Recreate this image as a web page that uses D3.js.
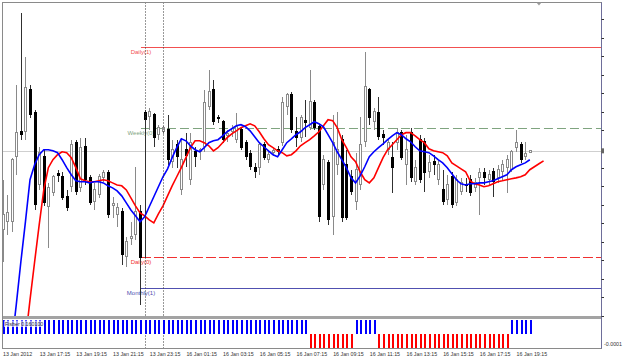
<!DOCTYPE html>
<html>
<head>
<meta charset="utf-8">
<script src="https://cdn.jsdelivr.net/npm/d3@7"></script>
<style>
html, body { margin: 0; padding: 0; background: #fff; }
svg { display: block; font-family: "Liberation Sans", Arial, sans-serif; }
</style>
</head>
<body>
<svg></svg>
<script>
const width = 625;
const height = 360;

// M15 bars, 13 Jan 2012 15:15 -> 16 Jan 2012 19:45
const opens = [
  1.26663,1.26706,1.26707,1.27058,1.27193,1.27193,1.27420,1.27296,1.26906,1.27058,
  1.26788,1.26863,1.26966,1.26950,1.26842,1.26896,1.27134,1.26890,1.27112,1.26944,
  1.26815,1.26852,1.26944,1.26971,1.26793,1.26744,1.26761,1.26517,1.26615,1.26636,
  1.26761,1.27296,1.27274,1.27285,1.27177,1.27193,1.27204,1.27031,1.27123,1.26879,
  1.27096,1.26934,1.27085,1.27085,1.27112,1.27328,1.27420,1.27269,1.27247,1.27171,
  1.27193,1.27150,1.27204,1.27134,1.27074,1.26999,1.26999,1.27123,1.27042,1.27080,
  1.27096,1.27134,1.27328,1.27393,1.27193,1.27161,1.27253,1.27215,1.27350,1.27220,
  1.26906,1.27025,1.26734,1.27015,1.27150,1.27015,1.26950,1.26815,1.26906,1.27139,
  1.27420,1.27247,1.27296,1.27177,1.27096,1.27053,1.27134,1.27188,1.27015,1.27188,
  1.26923,1.27150,1.27139,1.26977,1.27031,1.26934,1.26879,1.26825,1.26950,1.26809,
  1.26869,1.26906,1.26934,1.26890,1.26944,1.26971,1.26934,1.26977,1.26944,1.26977,
  1.26999,1.26988,1.27107,1.27123,1.27058,1.27080
];
const highs = [
  1.26934,1.26852,1.27053,1.27447,1.27836,1.27598,1.27447,1.27312,1.27112,1.27096,
  1.26917,1.26961,1.26988,1.26977,1.26879,1.27150,1.27150,1.27161,1.27161,1.26961,
  1.26917,1.26966,1.26988,1.26988,1.26842,1.26809,1.26782,1.26625,1.26707,1.27004,
  1.26798,1.27312,1.27323,1.27296,1.27231,1.27225,1.27285,1.27150,1.27150,1.27161,
  1.27188,1.27188,1.27112,1.27107,1.27420,1.27528,1.27474,1.27285,1.27258,1.27204,
  1.27231,1.27296,1.27220,1.27150,1.27096,1.27025,1.27134,1.27139,1.27096,1.27107,
  1.27117,1.27382,1.27404,1.27409,1.27274,1.27285,1.27366,1.27528,1.27366,1.27231,
  1.27069,1.27042,1.27285,1.27301,1.27177,1.27096,1.26988,1.27080,1.27274,1.27625,
  1.27431,1.27323,1.27382,1.27204,1.27161,1.27139,1.27215,1.27204,1.27177,1.27215,
  1.27042,1.27177,1.27161,1.27069,1.27069,1.27042,1.26988,1.26961,1.26977,1.26961,
  1.26944,1.26944,1.26961,1.26944,1.26999,1.26999,1.26988,1.26999,1.27015,1.27042,
  1.27069,1.27096,1.27204,1.27139,1.27139,1.27096
];
const lows = [
  1.26490,1.26636,1.26652,1.26961,1.27150,1.27150,1.27269,1.26771,1.26879,1.26793,
  1.26566,1.26847,1.26923,1.26825,1.26766,1.26869,1.26852,1.26869,1.26906,1.26798,
  1.26771,1.26836,1.26923,1.26728,1.26728,1.26679,1.26474,1.26463,1.26582,1.26609,
  1.26258,1.26512,1.27204,1.27112,1.27150,1.27182,1.27015,1.26999,1.26999,1.26852,
  1.27004,1.26906,1.27004,1.27042,1.27085,1.27312,1.27231,1.27242,1.27134,1.27139,
  1.27166,1.27134,1.27096,1.27042,1.26988,1.26944,1.26961,1.27042,1.27025,1.27063,
  1.27069,1.27117,1.27285,1.27188,1.27112,1.27139,1.27166,1.27204,1.27204,1.26707,
  1.26879,1.26690,1.26636,1.26961,1.26707,1.26717,1.26852,1.26771,1.26879,1.27112,
  1.27231,1.27204,1.27150,1.27123,1.27069,1.26863,1.27096,1.27042,1.26906,1.26923,
  1.26906,1.26917,1.26869,1.26944,1.26961,1.26906,1.26798,1.26798,1.26782,1.26793,
  1.26852,1.26869,1.26847,1.26869,1.26744,1.26906,1.26906,1.26842,1.26917,1.26934,
  1.26863,1.26977,1.27085,1.27025,1.27042,1.27080
];
const closes = [
  1.26744,1.26755,1.27042,1.27188,1.27177,1.27431,1.27285,1.26798,1.27080,1.26809,
  1.26890,1.26950,1.26955,1.26836,1.26782,1.27123,1.26869,1.27107,1.26934,1.26809,
  1.26879,1.26950,1.26971,1.26744,1.26804,1.26782,1.26528,1.26598,1.26625,1.26761,
  1.26512,1.27258,1.27301,1.27161,1.27214,1.27215,1.27042,1.27096,1.27058,1.27042,
  1.27063,1.27134,1.27058,1.27096,1.27350,1.27409,1.27247,1.27263,1.27150,1.27182,
  1.27209,1.27220,1.27107,1.27058,1.27004,1.26977,1.27123,1.27053,1.27069,1.27090,
  1.27085,1.27350,1.27393,1.27204,1.27161,1.27269,1.27242,1.27355,1.27215,1.26734,
  1.27042,1.26717,1.27134,1.27096,1.26728,1.26728,1.26869,1.26988,1.27123,1.27436,
  1.27269,1.27301,1.27166,1.27161,1.27134,1.26999,1.27188,1.27053,1.27096,1.26944,
  1.26999,1.26934,1.26971,1.27025,1.27015,1.27015,1.26815,1.26906,1.26798,1.26934,
  1.26917,1.26901,1.26863,1.26917,1.26971,1.26944,1.26961,1.26923,1.26988,1.27015,
  1.27042,1.27085,1.27134,1.27042,1.27074,1.27090
];

// blue moving average, first value on bar 2
const fastStart = 2;
const fastMA = [
  1.26042,1.26258,1.26490,1.26706,1.26934,1.27015,1.27069,1.27096,1.27096,1.27090,
  1.27080,1.27042,1.26999,1.26961,1.26928,1.26923,1.26923,1.26917,1.26923,1.26923,
  1.26917,1.26901,1.26890,1.26874,1.26847,1.26809,1.26771,1.26739,1.26707,1.26734,
  1.26788,1.26842,1.26896,1.26950,1.26993,1.27053,1.27107,1.27155,1.27144,1.27117,
  1.27096,1.27085,1.27107,1.27134,1.27144,1.27150,1.27171,1.27193,1.27209,1.27225,
  1.27231,1.27220,1.27198,1.27166,1.27134,1.27112,1.27090,1.27069,1.27058,1.27096,
  1.27134,1.27155,1.27177,1.27193,1.27215,1.27231,1.27247,1.27236,1.27220,1.27177,
  1.27134,1.27085,1.27042,1.26999,1.26944,1.26917,1.26955,1.27004,1.27058,1.27085,
  1.27107,1.27128,1.27150,1.27171,1.27188,1.27177,1.27155,1.27139,1.27112,1.27090,
  1.27085,1.27080,1.27063,1.27042,1.27025,1.26999,1.26966,1.26934,1.26912,1.26906,
  1.26912,1.26912,1.26917,1.26917,1.26923,1.26928,1.26939,1.26950,1.26961,1.26988,
  1.27004,1.27015,1.27025,1.27042
];

// red moving average, first value on bar 2, drawn 3 bars forward
const slowStart = 2;
const slowShift = 3;
const slowMA = [
  1.26069,1.26285,1.26490,1.26690,1.26879,1.26999,1.27042,1.27069,1.27085,1.27080,
  1.27053,1.26999,1.26939,1.26928,1.26923,1.26923,1.26928,1.26934,1.26928,1.26917,
  1.26906,1.26901,1.26879,1.26836,1.26793,1.26755,1.26739,1.26717,1.26701,1.26750,
  1.26793,1.26847,1.26901,1.26950,1.26999,1.27053,1.27107,1.27144,1.27144,1.27134,
  1.27117,1.27090,1.27107,1.27134,1.27161,1.27182,1.27198,1.27215,1.27225,1.27236,
  1.27225,1.27193,1.27155,1.27123,1.27107,1.27090,1.27080,1.27063,1.27069,1.27090,
  1.27117,1.27134,1.27150,1.27171,1.27193,1.27225,1.27258,1.27253,1.27215,1.27150,
  1.27107,1.27058,1.27031,1.26977,1.26934,1.26917,1.26944,1.26999,1.27053,1.27096,
  1.27123,1.27150,1.27177,1.27188,1.27188,1.27171,1.27150,1.27134,1.27101,1.27090,
  1.27085,1.27080,1.27063,1.27025,1.27009,1.26993,1.26977,1.26928,1.26912,1.26906,
  1.26896,1.26901,1.26912,1.26923,1.26928,1.26934,1.26939,1.26944,1.26950,1.26961,
  1.26988,1.27004,1.27020,1.27036
];

// Fisher histogram: +1 blue, -1 red (the panel range is tiny, so every bar is full height)
const fisher = [
  1,1,1,1,1,1,1,1,1,1, 1,1,1,1,1,1,1,1,1,1, 1,1,1,1,1,1,1,1,1,1,
  1,1,1,1,1,1,1,1,1,1, 1,1,1,1,1,1,1,1,1,1, 1,1,1,1,1,1,1,1,1,1,
  1,1,1,1,1,1,1,
  -1,-1,-1,-1,-1,-1,-1,-1,-1,-1,
  1,1,1,1,1,
  -1,-1,-1,-1,-1,-1,-1,-1,-1,-1, -1,-1,-1,-1,-1,-1,-1,-1,-1,-1, -1,-1,-1,-1,-1,-1,-1,-1,-1,
  1,1,1,1,1
];
const fisherLabel = "Fisher 0.160100";
const fisherMinLabel = "-0.0001";

const levelNames = ["Daily(1)", "Weekly(0)", "Daily(0)", "Monthly(1)"];
const levelPrices = [1.27651, 1.27212, 1.26516, 1.26351];
const levelColors = ["#f25050", "#7fa47f", "#f03030", "#5050b0"];
const levelDash = [null, "9,4", "10,3", null];
const levelFrom = 30.2;

const timeBars = [0, 8, 16, 24, 32, 40, 48, 56, 64, 72, 80, 88, 96, 104, 112];
const timeLabels = ["13 Jan 2012", "13 Jan 17:15", "13 Jan 19:15", "13 Jan 21:15", "13 Jan 23:15",
  "16 Jan 01:15", "16 Jan 03:15", "16 Jan 05:15", "16 Jan 07:15", "16 Jan 09:15",
  "16 Jan 11:15", "16 Jan 13:15", "16 Jan 15:15", "16 Jan 17:15", "16 Jan 19:15"];

// vertical separators (bar index)
const separators = [31, 35];
const shiftMarkBar = 117;

const frame = {left: 2.5, right: 601.5, top: 2.5, mainBottom: 316, subTop: 319, bottom: 348.5};

const x = d3.scaleLinear().domain([0, 115]).range([2.5, 529.8]);
const y = d3.scaleLinear().domain([1.2620, 1.2780]).range([315.7, 19.3]);
const yFisher = d3.scaleLinear().domain([-1, 1]).range([348, 319.5]).clamp(true);

const svg = d3.select("svg")
  .attr("width", width)
  .attr("height", height);

const defs = svg.append("defs");
defs.append("clipPath").attr("id", "mainClip").append("rect")
  .attr("x", 3).attr("y", 3).attr("width", 598).attr("height", frame.mainBottom - 3);
defs.append("clipPath").attr("id", "subClip").append("rect")
  .attr("x", 3).attr("y", frame.subTop).attr("width", 598).attr("height", frame.bottom - frame.subTop);

const main = svg.append("g").attr("clip-path", "url(#mainClip)");

// bid line
const lastClose = closes[closes.length - 1];
main.append("line")
  .attr("x1", frame.left).attr("x2", frame.right)
  .attr("y1", Math.round(y(lastClose)) + 0.5).attr("y2", Math.round(y(lastClose)) + 0.5)
  .attr("stroke", "#cfcfcf");

// level lines
levelPrices.forEach((p, k) => {
  const yy = Math.round(y(p)) + 0.5;
  main.append("line")
    .attr("x1", x(levelFrom)).attr("x2", frame.right)
    .attr("y1", yy).attr("y2", yy)
    .attr("stroke", levelColors[k])
    .attr("stroke-dasharray", levelDash[k]);
  main.append("text")
    .attr("x", x(levelFrom)).attr("y", yy + 6)
    .attr("text-anchor", "middle")
    .attr("font-size", 6)
    .attr("fill", levelColors[k])
    .text(levelNames[k]);
});

// separators
separators.forEach(b => {
  svg.append("line")
    .attr("x1", Math.round(x(b)) + 0.5).attr("x2", Math.round(x(b)) + 0.5)
    .attr("y1", frame.top).attr("y2", frame.bottom)
    .attr("stroke", "#333")
    .attr("stroke-dasharray", "1,2");
});

// candles
const bars = opens.map((o, i) => ({i, o, h: highs[i], l: lows[i], c: closes[i]}));
const candle = main.append("g").attr("shape-rendering", "crispEdges")
  .selectAll("g").data(bars).enter().append("g");

candle.append("line")
  .attr("x1", d => Math.round(x(d.i)) + 0.5)
  .attr("x2", d => Math.round(x(d.i)) + 0.5)
  .attr("y1", d => y(d.h))
  .attr("y2", d => y(d.l))
  .attr("stroke", d => d.c >= d.o ? "#8a8a8a" : "#303030");

candle.append("rect")
  .attr("x", d => Math.round(x(d.i)) - 0.5)
  .attr("width", 2)
  .attr("y", d => y(Math.max(d.o, d.c)))
  .attr("height", d => Math.max(1, Math.abs(y(d.o) - y(d.c))))
  .attr("fill", d => d.c >= d.o ? "#fff" : "#000")
  .attr("stroke", d => d.c >= d.o ? "#8a8a8a" : "#000");

// moving averages
const maLine = d3.line()
  .x(d => x(d.i))
  .y(d => y(d.v));

main.append("path")
  .attr("d", maLine(slowMA.map((v, k) => ({i: slowStart + k + slowShift, v}))))
  .attr("fill", "none")
  .attr("stroke", "#ff0000")
  .attr("stroke-width", 1.6);

main.append("path")
  .attr("d", maLine(fastMA.map((v, k) => ({i: fastStart + k, v}))))
  .attr("fill", "none")
  .attr("stroke", "#0000ff")
  .attr("stroke-width", 1.6);

// indicator window
svg.append("rect")
  .attr("x", frame.left).attr("y", frame.mainBottom)
  .attr("width", frame.right - frame.left).attr("height", frame.subTop - frame.mainBottom)
  .attr("fill", "#a3a3a3");

const sub = svg.append("g").attr("clip-path", "url(#subClip)").attr("shape-rendering", "crispEdges");
sub.selectAll("rect").data(fisher).enter().append("rect")
  .attr("x", (v, i) => Math.round(x(i)) - 0.5)
  .attr("width", 2)
  .attr("y", v => Math.min(yFisher(v), yFisher(0)))
  .attr("height", v => Math.abs(yFisher(v) - yFisher(0)))
  .attr("fill", v => v >= 0 ? "#0000ff" : "#ff0000");

svg.append("rect")
  .attr("x", 4).attr("y", 320.5).attr("width", 40).attr("height", 6.5)
  .attr("fill", "#fff").attr("opacity", 0.65);
svg.append("text")
  .attr("x", 5).attr("y", 326)
  .attr("font-size", 5.3)
  .attr("fill", "#333")
  .text(fisherLabel);

// frame
svg.append("rect")
  .attr("x", frame.left).attr("y", frame.top)
  .attr("width", frame.right - frame.left).attr("height", frame.bottom - frame.top)
  .attr("fill", "none")
  .attr("stroke", "#8a8a8a");
svg.append("line")
  .attr("x1", frame.right).attr("x2", frame.right)
  .attr("y1", frame.top).attr("y2", frame.bottom)
  .attr("stroke", "#6e6e9a");

// price ticks (labels fall outside the picture)
svg.append("g").selectAll("line").data(y.ticks(16)).enter().append("line")
  .attr("x1", frame.right).attr("x2", frame.right + 2.5)
  .attr("y1", d => Math.round(y(d)) + 0.5).attr("y2", d => Math.round(y(d)) + 0.5)
  .attr("stroke", "#333");

svg.append("rect")
  .attr("x", frame.right - 0.5).attr("y", y(lastClose) - 2.5)
  .attr("width", 3).attr("height", 5)
  .attr("fill", "#666");

svg.append("text")
  .attr("x", frame.right + 2.5).attr("y", 346)
  .attr("font-size", 5.3)
  .attr("fill", "#333")
  .text(fisherMinLabel);

// chart shift marker
svg.append("path")
  .attr("d", d3.line()([[x(shiftMarkBar) - 2.5, 2.5], [x(shiftMarkBar) + 2.5, 2.5], [x(shiftMarkBar), 5.5]]) + "Z")
  .attr("fill", "#9a9a9a");

// time axis
svg.append("g").selectAll("text").data(timeBars).enter().append("text")
  .attr("x", b => x(b) + 0.5)
  .attr("y", 355.5)
  .attr("font-size", 5.3)
  .attr("fill", "#333")
  .text((b, k) => timeLabels[k]);
</script>
</body>
</html>
